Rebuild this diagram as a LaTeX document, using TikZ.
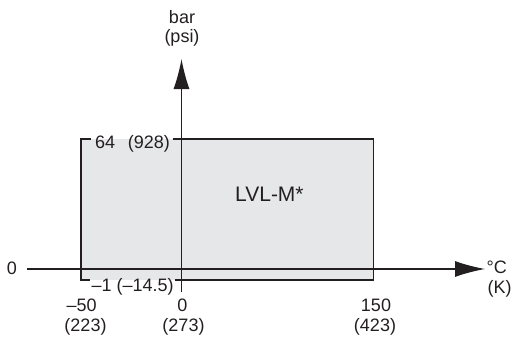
\documentclass[tikz,border=0pt]{standalone}
\usepackage{fontspec}
\setmainfont{Liberation Sans}
\usetikzlibrary{arrows.meta}
\definecolor{ink}{HTML}{231F20}
\definecolor{zone}{HTML}{E6E7E8}
\begin{document}
\begin{tikzpicture}[x=1pt,y=-1pt,
  lbl/.style={font=\fontsize{18}{20}\selectfont, text=ink, inner sep=0pt, anchor=base},
  big/.style={font=\fontsize{21}{24}\selectfont, text=ink, inner sep=0pt, anchor=base west},
  axis/.style={draw=ink, line width=1.1pt, -{Latex[length=30pt,width=16pt]}},
  border/.style={draw=ink, line width=1.1pt}]
\useasboundingbox (0,0) rectangle (515,338);
% operating zone
\fill[zone] (81,139) rectangle (373.5,279.5);
\draw[border] (90.5,139) -- (81,139) -- (81,280) -- (90,280);
\draw[border] (173,139) -- (373.5,139) -- (373.5,280) -- (175,280);
% axes
\coordinate (xs) at (27,269);
\coordinate (xe) at (485,269);
\coordinate (ys) at (181.5,292);
\coordinate (ye) at (181.5,59);
\draw[axis] (xs) -- (xe);
\draw[axis] (ys) -- (ye);
% axis titles
\node[lbl] (bar) at (182,23) {bar};
\node[lbl] (psi) at (182,42.5) {(psi)};
\node[lbl, anchor=base west] (degc) at (486.5,273) {°C};
\node[lbl, anchor=base west] (kel) at (487.5,293) {(K)};
% y labels
\node[lbl] (zero) at (12,274) {0};
\node[lbl, anchor=base west] (top) at (95,148.3) {64\hspace{0.7em}(928)};
\node[lbl, anchor=base west] (bot) at (91.5,291.5) {–1 (–14.5)};
% x labels
\node[lbl] (tm50) at (81.7,311.5) {–50};
\node[lbl] (km50) at (85.5,331.5) {(223)};
\node[lbl] (t0) at (182.5,311.5) {0};
\node[lbl] (k0) at (183.5,331.5) {(273)};
\node[lbl] (t150) at (376,311.5) {150};
\node[lbl] (k150) at (375,331.5) {(423)};
% zone label
\node[big] (lvl) at (235,201.7) {LVL-M*};
\end{tikzpicture}
\end{document}
